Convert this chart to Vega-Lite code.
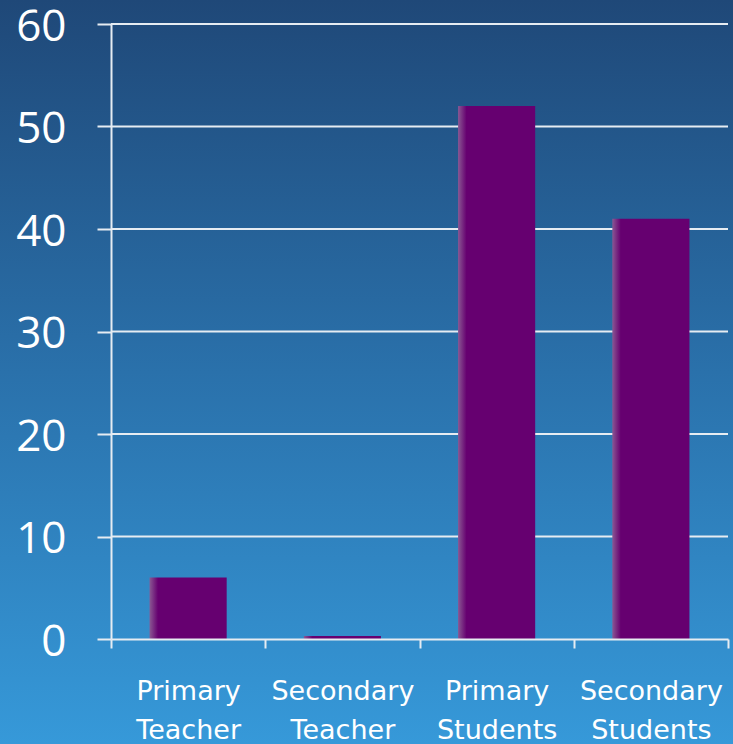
{
  "$schema": "https://vega.github.io/schema/vega-lite/v6.json",
  "width": 617,
  "height": 615,
  "autosize": "none",
  "padding": {"left": 111, "top": 24, "right": 5, "bottom": 105},
  "background": "#2a70aa",
  "datasets": {
    "bars": [
      {"category": "Primary Teacher", "value": 6},
      {"category": "Secondary Teacher", "value": 0.3},
      {"category": "Primary Students", "value": 52},
      {"category": "Secondary Students", "value": 41}
    ],
    "grid": [
      {"tick": 10}, {"tick": 20}, {"tick": 30}, {"tick": 40}, {"tick": 50}, {"tick": 60}
    ]
  },
  "resolve": {"scale": {"x": "independent"}},
  "layer": [
    {
      "data": {"name": "bars"},
      "mark": {
        "type": "rect",
        "clip": false,
        "fill": {
          "gradient": "linear", "x1": 0, "y1": 0, "x2": 0, "y2": 1,
          "stops": [
            {"offset": 0, "color": "#1f4878"},
            {"offset": 0.5, "color": "#2a71ab"},
            {"offset": 1, "color": "#3699d9"}
          ]
        }
      },
      "encoding": {
        "x": {"datum": -0.2, "type": "quantitative", "scale": {"domain": [0, 1]}, "axis": null},
        "x2": {"datum": 1.02},
        "y": {"datum": 62.34, "type": "quantitative", "scale": {"domain": [0, 60], "nice": false}},
        "y2": {"datum": -10.25}
      }
    },
    {
      "data": {"name": "grid"},
      "mark": {"type": "rule", "color": "#e6ecf2", "strokeWidth": 2},
      "encoding": {
        "y": {"field": "tick", "type": "quantitative"}
      }
    },
    {
      "data": {"name": "bars"},
      "mark": {
        "type": "bar",
        "width": {"band": 0.5},
        "fill": {
          "gradient": "linear", "x1": 0, "y1": 0, "x2": 1, "y2": 0,
          "stops": [
            {"offset": 0, "color": "#8a5893"},
            {"offset": 0.11, "color": "#660070"},
            {"offset": 1, "color": "#660070"}
          ]
        }
      },
      "encoding": {
        "x": {
          "field": "category",
          "type": "nominal",
          "sort": null,
          "scale": {"paddingInner": 0, "paddingOuter": 0},
          "axis": {
            "title": null,
            "labelAngle": 0,
            "labelExpr": "split(datum.label, ' ')",
            "labelFont": "DejaVu Sans",
            "labelFontSize": 27,
            "labelColor": "#ffffff",
            "labelPadding": 30,
            "labelLineHeight": 39,
            "labelBaseline": "top",
            "tickBand": "extent",
            "tickSize": 9,
            "tickWidth": 2,
            "tickColor": "#e6ecf2",
            "domainColor": "#e6ecf2",
            "domainWidth": 2,
            "grid": false,
            "zindex": 1
          }
        },
        "y": {
          "field": "value",
          "type": "quantitative",
          "axis": {
            "title": null,
            "values": [0, 10, 20, 30, 40, 50, 60],
            "labelFont": "Open Sans",
            "labelFontSize": 44,
            "labelColor": "#ffffff",
            "labelPadding": 31,
            "labelOffset": 3,
            "tickSize": 14,
            "tickWidth": 2,
            "tickColor": "#e6ecf2",
            "domainColor": "#e6ecf2",
            "domainWidth": 2,
            "grid": false,
            "zindex": 1
          }
        }
      }
    }
  ],
  "config": {
    "view": {"stroke": null}
  }
}
